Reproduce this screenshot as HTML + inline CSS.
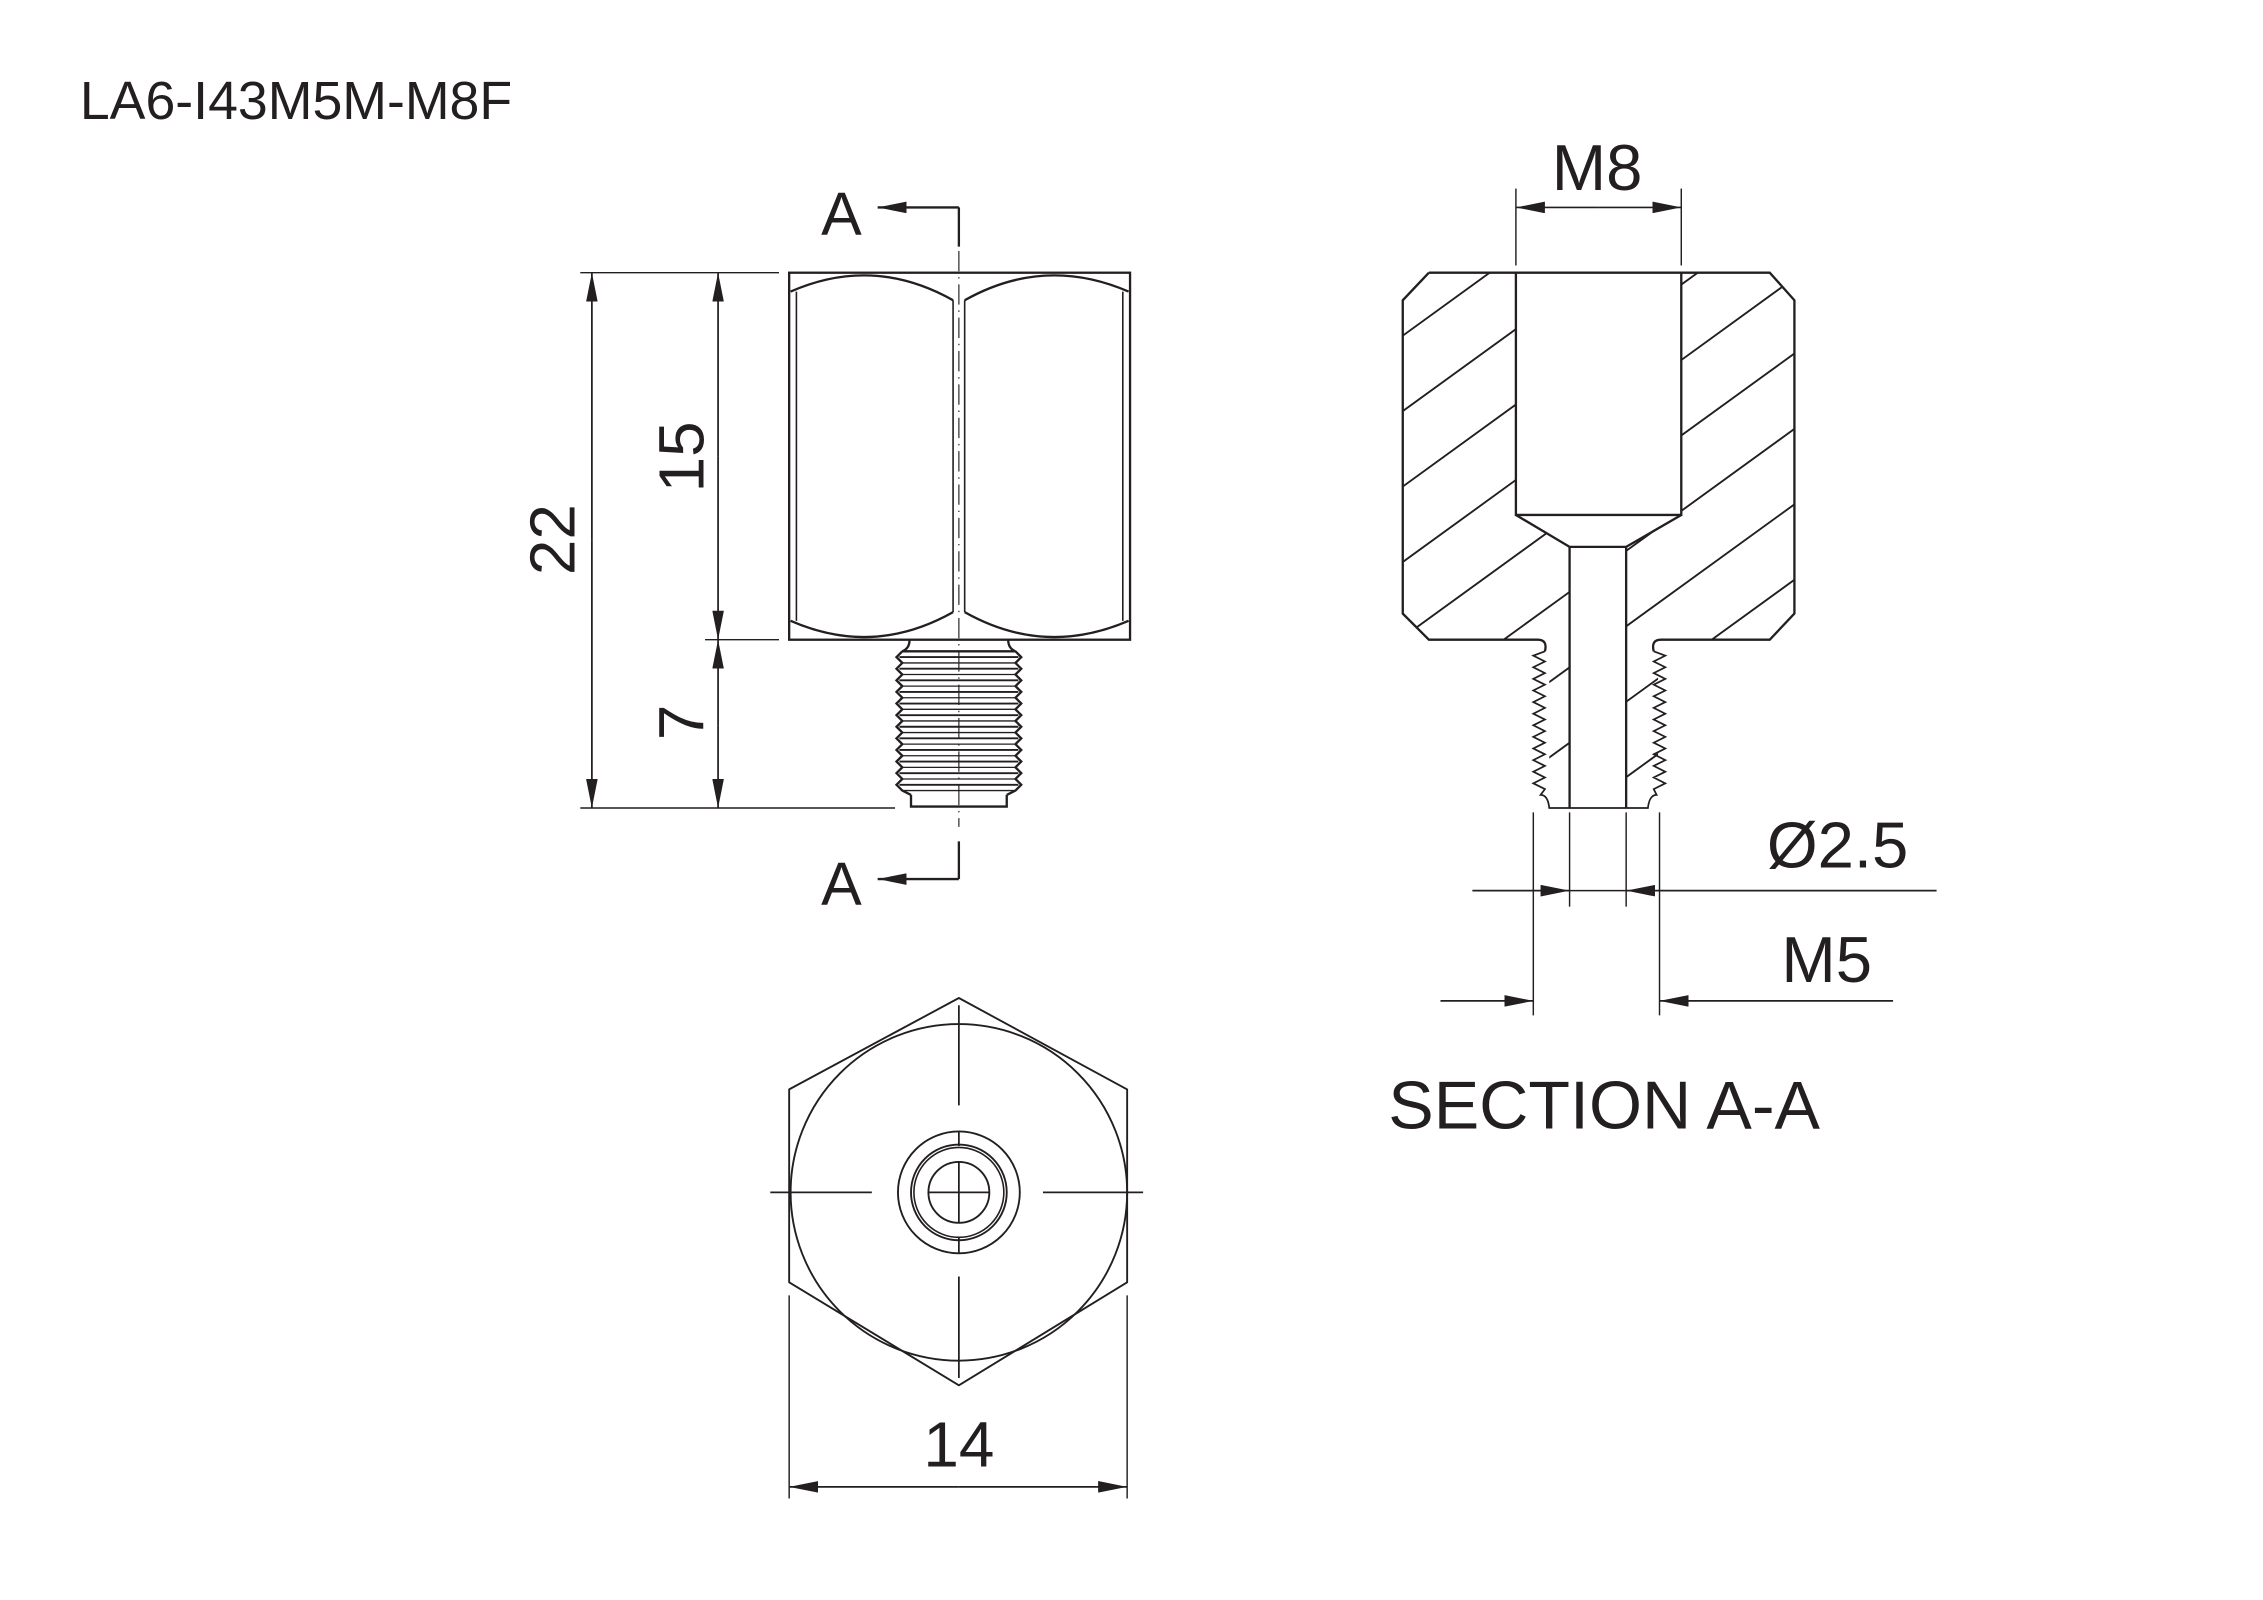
<!DOCTYPE html>
<html><head><meta charset="utf-8"><style>
html,body{margin:0;padding:0;background:#fff;}
svg{display:block;}
text{font-family:"Liberation Sans",Arial,sans-serif;fill:#231f20;}
</style></head><body>
<svg width="2263" height="1600" viewBox="0 0 1560 1103" xmlns="http://www.w3.org/2000/svg">
<defs>
<marker id="ar" viewBox="0 0 20 8" refX="20" refY="4" markerWidth="20" markerHeight="8" markerUnits="userSpaceOnUse" orient="auto-start-reverse">
<path d="M0,0 L20,4 L0,8 z" fill="#231f20"/></marker>
<clipPath id="secL"><path d="M985,188 L1045,188 L1045,355 L1082,377 L1082,557 L1068,557 L1068,441 L985,441 L967,423 L967,207 Z"/></clipPath>
<clipPath id="secR"><path d="M1159,188 L1220,188 L1237,207 L1237,423 L1220,441 L1143,441 L1143,557 L1121,557 L1121,377 L1159,355 Z"/></clipPath>
</defs>
<g stroke="#231f20" fill="none" stroke-width="1.6">
<text x="55" y="82" font-size="37" stroke="none">LA6-I43M5M-M8F</text>

<!-- FRONT VIEW -->
<rect x="544" y="188" width="235" height="253"/>
<line x1="549" y1="201" x2="549" y2="428" stroke-width="1.1"/>
<line x1="774" y1="201" x2="774" y2="428" stroke-width="1.1"/>
<line x1="657" y1="207" x2="657" y2="422" stroke-width="1.1"/>
<line x1="665" y1="207" x2="665" y2="422" stroke-width="1.1"/>
<path d="M545,201 Q602,176 657,207 M665,207 Q720,176 778,201"/>
<path d="M545,428 Q602,453 657,422 M665,422 Q720,453 778,428"/>
<line x1="661" y1="150" x2="661" y2="570" stroke-width="0.8" stroke-dasharray="14,4,1,4"/>
<path d="M661,143 L661,170 M661,143 L605,143" marker-end="url(#ar)"/>
<path d="M661,580 L661,606 M661,606 L605,606" marker-end="url(#ar)"/>
<text x="566" y="162" font-size="42" stroke="none">A</text>
<text x="566" y="624" font-size="42" stroke="none">A</text>
<path d="M627,441 Q627,447 622,449 L700,449 Q695,447 695,441"/>
<path d="M622,449 L618,453 L622,457 L618,461 L622,465 L618,469 L622,473 L618,477 L622,481 L618,485 L622,489 L618,493 L622,497 L618,501 L622,505 L618,509 L622,513 L618,517 L622,521 L618,525 L622,529 L618,533 L622,537 L618,541 L622,545 L628,548"/>
<path d="M700,449 L704,453 L700,457 L704,461 L700,465 L704,469 L700,473 L704,477 L700,481 L704,485 L700,489 L704,493 L700,497 L704,501 L700,505 L704,509 L700,513 L704,517 L700,521 L704,525 L700,529 L704,533 L700,537 L704,541 L700,545 L694,548"/>
<path d="M620,453 H702 M620,461 H702 M620,469 H702 M620,477 H702 M620,485 H702 M620,493 H702 M620,501 H702 M620,509 H702 M620,517 H702 M620,525 H702 M620,533 H702 M620,541 H702" stroke-width="1.3"/>
<path d="M622,457 H700 M622,465 H700 M622,473 H700 M622,481 H700 M622,489 H700 M622,497 H700 M622,505 H700 M622,513 H700 M622,521 H700 M622,529 H700 M622,537 H700 M622,545 H700" stroke-width="0.9"/>
<path d="M628,548 L628,556 L694,556 L694,548"/>
<line x1="400" y1="188" x2="537" y2="188" stroke-width="1"/>
<line x1="486" y1="441" x2="537" y2="441" stroke-width="1"/>
<line x1="400" y1="557" x2="617" y2="557" stroke-width="1"/>
<line x1="408" y1="372" x2="408" y2="188" marker-end="url(#ar)" stroke-width="1.2"/>
<line x1="408" y1="372" x2="408" y2="557" marker-end="url(#ar)" stroke-width="1.2"/>
<line x1="495" y1="315" x2="495" y2="188" marker-end="url(#ar)" stroke-width="1.2"/>
<line x1="495" y1="315" x2="495" y2="441" marker-end="url(#ar)" stroke-width="1.2"/>
<line x1="495" y1="500" x2="495" y2="441" marker-end="url(#ar)" stroke-width="1.2"/>
<line x1="495" y1="500" x2="495" y2="557" marker-end="url(#ar)" stroke-width="1.2"/>
<text transform="translate(396,372) rotate(-90)" font-size="44" text-anchor="middle" stroke="none">22</text>
<text transform="translate(485,315) rotate(-90)" font-size="44" text-anchor="middle" stroke="none">15</text>
<text transform="translate(485,498) rotate(-90)" font-size="44" text-anchor="middle" stroke="none">7</text>

<!-- BOTTOM VIEW -->
<path d="M661,688 L777,751 L777,884 L661,955 L544,884 L544,751 Z" stroke-linejoin="round" stroke-width="1.3"/>
<circle cx="661" cy="822" r="116" stroke-width="1.3"/>
<circle cx="661" cy="822" r="42" stroke-width="1.3"/>
<circle cx="661" cy="822" r="33" stroke-width="1.3"/>
<circle cx="661" cy="822" r="31" stroke-width="1.1"/>
<circle cx="661" cy="822" r="21" stroke-width="1.3"/>
<path d="M531,822 H601 M719,822 H788 M661,693 V762 M661,880 V950 M640,822 H682 M661,801 V843 M661,780 V790 M661,853 V864" stroke-width="1.2"/>
<line x1="544" y1="893" x2="544" y2="1033" stroke-width="1"/>
<line x1="777" y1="893" x2="777" y2="1033" stroke-width="1"/>
<line x1="661" y1="1025" x2="544" y2="1025" marker-end="url(#ar)" stroke-width="1.2"/>
<line x1="661" y1="1025" x2="777" y2="1025" marker-end="url(#ar)" stroke-width="1.2"/>
<text x="661" y="1011" font-size="44" text-anchor="middle" stroke="none">14</text>

<!-- SECTION -->
<g clip-path="url(#secL)" stroke-width="1.3">
<path d="M900,280 L1300,-10 M900,332 L1300,42 M900,384 L1300,94 M900,436 L1300,146 M900,488 L1300,198 M900,540 L1300,250 M900,592 L1300,302 M900,644 L1300,354 M900,696 L1300,406 M900,748 L1300,458 M900,800 L1300,510"/>
</g>
<g clip-path="url(#secR)" stroke-width="1.3">
<path d="M900,280 L1300,-10 M900,332 L1300,42 M900,384 L1300,94 M900,436 L1300,146 M900,488 L1300,198 M900,540 L1300,250 M900,592 L1300,302 M900,644 L1300,354 M900,696 L1300,406 M900,748 L1300,458 M900,800 L1300,510 M900,852 L1300,562 M900,904 L1300,614"/>
</g>
<path d="M985,188 L1220,188 L1237,207 L1237,423 L1220,441 L1145,441 Q1138,441 1140,449"/>
<path d="M985,188 L967,207 L967,423 L985,441 L1060,441 Q1067,441 1065,449"/>
<path d="M1045,188 V355 H1159 V188 M1045,355 L1082,377 H1121 L1159,355 M1082,377 V557 M1121,377 V557"/>
<path d="M1065,449 L1057,452 L1065,456 L1057,460 L1065,464 L1057,468 L1065,472 L1057,476 L1065,480 L1057,484 L1065,488 L1057,492 L1065,496 L1057,500 L1065,504 L1057,508 L1065,512 L1057,516 L1065,520 L1057,524 L1065,528 L1057,532 L1065,536 L1057,540 L1065,544 L1062,548 Q1067,548 1068,557 L1136,557 Q1137,548 1142,548 L1140,544 L1148,540 L1140,536 L1148,532 L1140,528 L1148,524 L1140,520 L1148,516 L1140,512 L1148,508 L1140,504 L1148,500 L1140,496 L1148,492 L1140,488 L1148,484 L1140,480 L1148,476 L1140,472 L1148,468 L1140,464 L1148,460 L1140,456 L1148,452 L1140,449" stroke-width="1.2"/>
<line x1="1045" y1="130" x2="1045" y2="183" stroke-width="1"/>
<line x1="1159" y1="130" x2="1159" y2="183" stroke-width="1"/>
<line x1="1102" y1="143" x2="1045" y2="143" marker-end="url(#ar)" stroke-width="1.2"/>
<line x1="1102" y1="143" x2="1159" y2="143" marker-end="url(#ar)" stroke-width="1.2"/>
<text x="1101" y="131" font-size="45" text-anchor="middle" stroke="none">M8</text>
<path d="M1057,560 V700 M1082,560 V625 M1121,560 V625 M1144,560 V700" stroke-width="1"/>
<line x1="1015" y1="614" x2="1082" y2="614" marker-end="url(#ar)" stroke-width="1.2"/>
<line x1="1335" y1="614" x2="1121" y2="614" marker-end="url(#ar)" stroke-width="1.2"/>
<line x1="1082" y1="614" x2="1121" y2="614" stroke-width="1"/>
<text x="1218" y="598" font-size="45" stroke="none">Ø2.5</text>
<line x1="993" y1="690" x2="1057" y2="690" marker-end="url(#ar)" stroke-width="1.2"/>
<line x1="1305" y1="690" x2="1144" y2="690" marker-end="url(#ar)" stroke-width="1.2"/>
<text x="1228" y="677" font-size="45" stroke="none">M5</text>
<text x="957" y="778" font-size="47" stroke="none">SECTION A-A</text>
</g>
</svg>
</body></html>
